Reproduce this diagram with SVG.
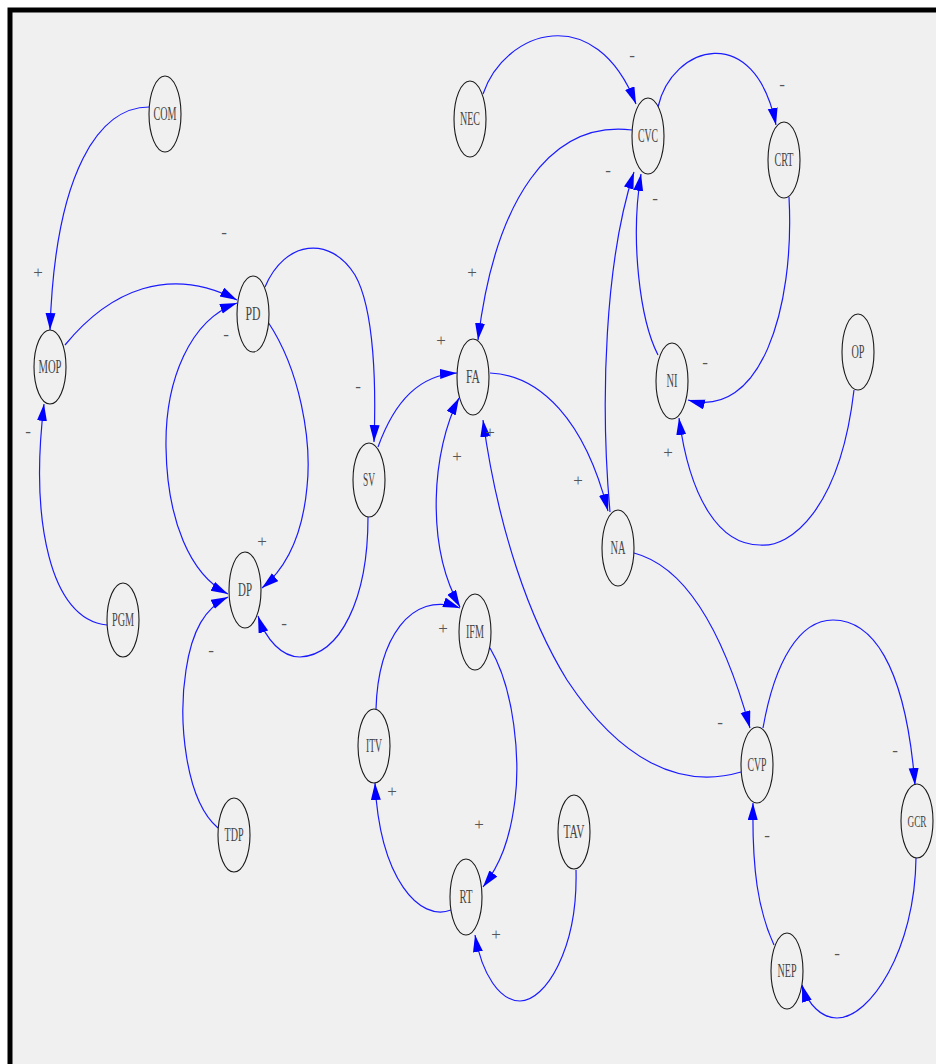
<svg xmlns="http://www.w3.org/2000/svg" width="936" height="1064" viewBox="0 0 936 1064">
<defs>
<marker id="ah" markerUnits="userSpaceOnUse" markerWidth="19" markerHeight="11" refX="17" refY="5" orient="auto-start-reverse">
<path d="M0,0 L17,5 L0,10 z" fill="#0000ff"/>
</marker>
<style>
.e{fill:none;stroke:#1a1aff;stroke-width:1.2;marker-end:url(#ah)}
.b{marker-start:url(#ah)}
.n ellipse{fill:#f0f0f0;stroke:#1a1a1a;stroke-width:1.1}
.n text{font-family:"Liberation Serif","Times New Roman",serif;font-size:19px;fill:#444;text-anchor:middle}
.s{font-family:"Liberation Serif","Times New Roman",serif;font-size:17px;fill:#555;text-anchor:middle}
</style>
</defs>
<rect width="936" height="1064" fill="#ffffff"/>
<rect x="10" y="10" width="940" height="1070" fill="#f0f0f0" stroke="#000" stroke-width="5"/>

<g id="connectors">
<path class="e" d="M149,107 C100,107 55,170 50,330"/>
<path class="e" d="M107,625 C50,620 30,520 44,404"/>
<path class="e" d="M65,345 C110,290 170,265 237,300"/>
<path class="e" d="M265,287 C285,240 330,235 355,275 C375,310 376,390 374,442"/>
<path class="e" d="M268,322 C300,370 312,440 307,487 C303,530 290,565 262,588"/>
<path class="e b" d="M237,303 C190,320 165,380 166,447 C167,520 190,575 228,594"/>
<path class="e" d="M218,828 C185,800 178,720 186,670 C192,630 205,608 228,597"/>
<path class="e" d="M368,517 C368,600 340,655 300,657 C282,657 266,640 258,616"/>
<path class="e" d="M378,447 C395,400 420,375 457,373"/>
<path class="e" d="M632,130 C550,120 495,200 478,340"/>
<path class="e" d="M490,373 C540,375 585,420 608,511"/>
<path class="e b" d="M459,398 C432,450 425,545 460,607"/>
<path class="e" d="M741,772 C680,790 620,760 567,680 C530,620 498,530 483,420"/>
<path class="e" d="M634,553 C680,565 720,620 750,728"/>
<path class="e" d="M610,512 C600,400 605,260 634,172"/>
<path class="e" d="M658,355 C640,320 630,240 641,174"/>
<path class="e" d="M483,94 C505,30 595,0 636,104"/>
<path class="e" d="M658,107 C672,45 755,20 776,125"/>
<path class="e" d="M789,197 C795,310 760,420 688,400"/>
<path class="e" d="M854,390 C840,510 790,548 760,545 C720,545 690,500 679,418"/>
<path class="e" d="M763,728 C775,660 800,620 833,620 C870,620 905,660 915,785"/>
<path class="e" d="M916,858 C915,950 870,1018 837,1018 C822,1018 808,1005 802,985"/>
<path class="e" d="M774,945 C758,910 752,870 753,803"/>
<path class="e" d="M490,648 C515,690 520,760 515,800 C510,840 500,865 483,887"/>
<path class="e" d="M576,870 C578,950 545,1001 520,1001 C500,1001 482,975 475,935"/>
<path class="e" d="M451,910 C420,922 380,880 375,783"/>
<path class="e" d="M376,709 C378,640 410,590 460,608"/>
</g>

<g id="signs">
<text class="s" x="38" y="278">+</text>
<text class="s" x="28" y="437">-</text>
<text class="s" x="224" y="238">-</text>
<text class="s" x="226" y="340">-</text>
<text class="s" x="358" y="392">-</text>
<text class="s" x="262" y="547">+</text>
<text class="s" x="284" y="629">-</text>
<text class="s" x="211" y="656">-</text>
<text class="s" x="441" y="346">+</text>
<text class="s" x="472" y="278">+</text>
<text class="s" x="457" y="462">+</text>
<text class="s" x="490" y="438">+</text>
<text class="s" x="578" y="486">+</text>
<text class="s" x="443" y="634">+</text>
<text class="s" x="392" y="797">+</text>
<text class="s" x="479" y="830">+</text>
<text class="s" x="496" y="940">+</text>
<text class="s" x="632" y="61">-</text>
<text class="s" x="782" y="90">-</text>
<text class="s" x="608" y="176">-</text>
<text class="s" x="655" y="204">-</text>
<text class="s" x="705" y="368">-</text>
<text class="s" x="668" y="458">+</text>
<text class="s" x="720" y="728">-</text>
<text class="s" x="895" y="756">-</text>
<text class="s" x="767" y="841">-</text>
<text class="s" x="837" y="959">-</text>
</g>

<g id="COM" class="n"><ellipse cx="165" cy="114" rx="16" ry="38"/><text x="165" y="120" textLength="23" lengthAdjust="spacingAndGlyphs">COM</text></g>
<g id="MOP" class="n"><ellipse cx="50" cy="367" rx="16" ry="37"/><text x="50" y="373" textLength="23" lengthAdjust="spacingAndGlyphs">MOP</text></g>
<g id="PGM" class="n"><ellipse cx="123" cy="620" rx="16" ry="37"/><text x="123" y="626" textLength="22" lengthAdjust="spacingAndGlyphs">PGM</text></g>
<g id="PD" class="n"><ellipse cx="253" cy="314" rx="16" ry="38"/><text x="253" y="320" textLength="15" lengthAdjust="spacingAndGlyphs">PD</text></g>
<g id="DP" class="n"><ellipse cx="245" cy="590" rx="16" ry="38"/><text x="245" y="596" textLength="14" lengthAdjust="spacingAndGlyphs">DP</text></g>
<g id="TDP" class="n"><ellipse cx="234" cy="835" rx="16" ry="37"/><text x="234" y="841" textLength="19" lengthAdjust="spacingAndGlyphs">TDP</text></g>
<g id="SV" class="n"><ellipse cx="369" cy="480" rx="16" ry="37"/><text x="369" y="486" textLength="12" lengthAdjust="spacingAndGlyphs">SV</text></g>
<g id="FA" class="n"><ellipse cx="473" cy="377" rx="16" ry="38"/><text x="473" y="383" textLength="14" lengthAdjust="spacingAndGlyphs">FA</text></g>
<g id="IFM" class="n"><ellipse cx="475" cy="632" rx="16" ry="38"/><text x="475" y="638" textLength="18" lengthAdjust="spacingAndGlyphs">IFM</text></g>
<g id="ITV" class="n"><ellipse cx="374" cy="746" rx="16" ry="37"/><text x="374" y="752" textLength="16" lengthAdjust="spacingAndGlyphs">ITV</text></g>
<g id="RT" class="n"><ellipse cx="466" cy="897" rx="16" ry="38"/><text x="466" y="903" textLength="13" lengthAdjust="spacingAndGlyphs">RT</text></g>
<g id="TAV" class="n"><ellipse cx="574" cy="832" rx="16" ry="37"/><text x="574" y="838" textLength="21" lengthAdjust="spacingAndGlyphs">TAV</text></g>
<g id="NEC" class="n"><ellipse cx="470" cy="119" rx="16" ry="38"/><text x="470" y="125" textLength="20" lengthAdjust="spacingAndGlyphs">NEC</text></g>
<g id="CVC" class="n"><ellipse cx="648" cy="136" rx="16" ry="38"/><text x="648" y="142" textLength="20" lengthAdjust="spacingAndGlyphs">CVC</text></g>
<g id="CRT" class="n"><ellipse cx="784" cy="160" rx="16" ry="38"/><text x="784" y="166" textLength="19" lengthAdjust="spacingAndGlyphs">CRT</text></g>
<g id="NI" class="n"><ellipse cx="672" cy="381" rx="16" ry="38"/><text x="672" y="387" textLength="11" lengthAdjust="spacingAndGlyphs">NI</text></g>
<g id="OP" class="n"><ellipse cx="858" cy="352" rx="16" ry="38"/><text x="858" y="358" textLength="13" lengthAdjust="spacingAndGlyphs">OP</text></g>
<g id="NA" class="n"><ellipse cx="618" cy="548" rx="16" ry="38"/><text x="618" y="554" textLength="15" lengthAdjust="spacingAndGlyphs">NA</text></g>
<g id="CVP" class="n"><ellipse cx="757" cy="765" rx="16" ry="38"/><text x="757" y="771" textLength="19" lengthAdjust="spacingAndGlyphs">CVP</text></g>
<g id="GCR" class="n"><ellipse cx="917" cy="821" rx="16" ry="37"/><text x="917" y="827" style="font-size:17px" textLength="19" lengthAdjust="spacingAndGlyphs">GCR</text></g>
<g id="NEP" class="n"><ellipse cx="787" cy="971" rx="16" ry="38"/><text x="787" y="977" textLength="19" lengthAdjust="spacingAndGlyphs">NEP</text></g>
</svg>
